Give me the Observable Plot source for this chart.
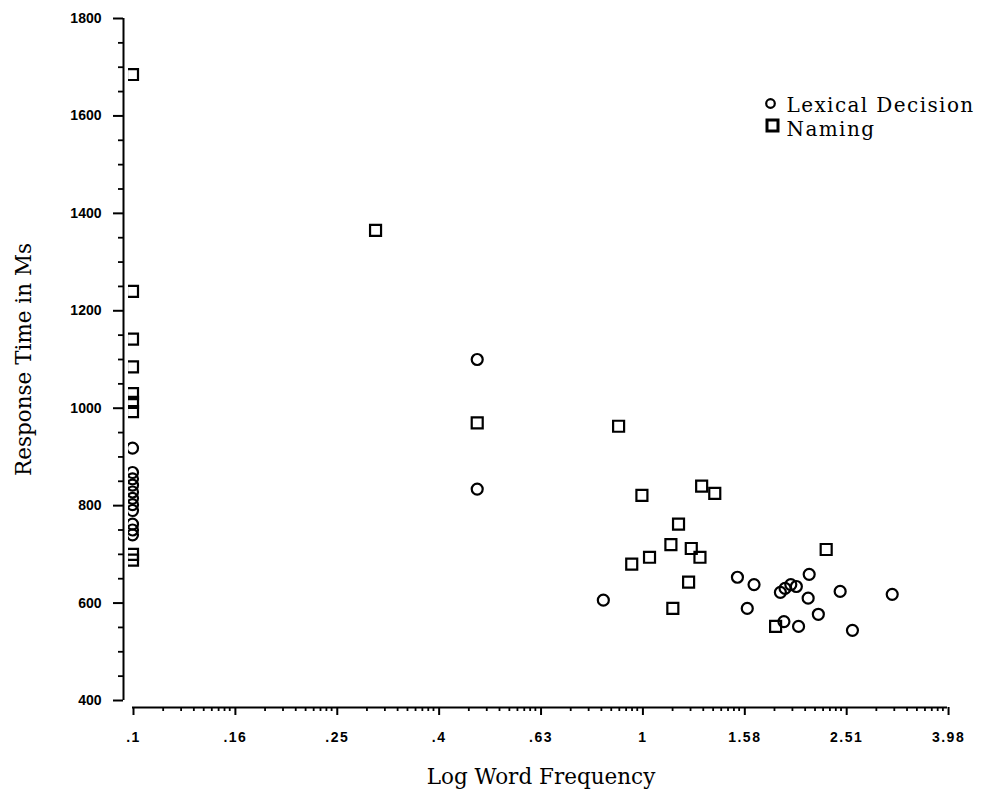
<!DOCTYPE html>
<html>
<head>
<meta charset="utf-8">
<script src="https://cdn.jsdelivr.net/npm/d3@7"></script>
<script src="https://cdn.jsdelivr.net/npm/@observablehq/plot@0.6"></script>
<style>
  html, body { margin: 0; padding: 0; background: white; }
  #chart g[aria-label="y-axis tick label"],
  #chart g[aria-label="x-axis tick label"] { font-size: 14px; font-weight: bold; font-family: "Liberation Sans", sans-serif; }
  #chart g[aria-label="x-axis tick label"] { letter-spacing: 1.5px; }
</style>
</head>
<body>
<div id="chart"></div>
<script>
// ---- data ----
const seriesNames = ["Lexical Decision", "Naming"];

// Lexical decision (circles)
const lexX = [0.1, 0.1, 0.1, 0.1, 0.1, 0.1, 0.1, 0.1, 0.1, 0.1, 0.1,
              0.475, 0.475, 0.84, 1.54, 1.66, 1.61, 2.13, 1.87, 1.91, 1.96,
              2.01, 2.12, 2.45, 3.10, 2.22, 1.90, 2.03, 2.59];
const lexY = [918, 868, 855, 842, 828, 815, 802, 790, 762, 750, 740,
              1100, 834, 606, 653, 638, 589, 659, 622, 630, 638,
              634, 610, 624, 618, 577, 562, 552, 544];

// Naming (squares)
const namX = [0.1, 0.1, 0.1, 0.1, 0.1, 0.1, 0.1, 0.1, 0.1,
              0.30, 0.475, 0.90, 1.0, 1.31, 1.39, 1.18, 1.14, 1.25, 1.30,
              1.035, 0.955, 1.235, 1.15, 2.30, 1.83];
const namY = [1685, 1240, 1142, 1085, 1030, 1012, 993, 700, 688,
              1365, 970, 963, 821, 840, 825, 762, 720, 712, 694,
              694, 680, 643, 589, 710, 552];

// axis ticks
const xTickValues = [0.1, 0.1585, 0.2512, 0.3981, 0.631, 1, 1.585, 2.512, 3.981];
const xTickLabels = [".1", ".16", ".25", ".4", ".63", "1", "1.58", "2.51", "3.98"];
const yTickValues = [400, 600, 800, 1000, 1200, 1400, 1600, 1800];

// ---- derived ----
const lexical = lexX.map((x, i) => ({x, y: lexY[i]}));
const naming = namX.map((x, i) => ({x, y: namY[i]}));

// minor x ticks: log-style subdivision of each labelled interval
const xMinor = [];
for (let i = 0; i < xTickValues.length - 1; i++) {
  const a = xTickValues[i], b = xTickValues[i + 1];
  for (let k = 2; k <= 9; k++) xMinor.push(a * Math.pow(b / a, Math.log10(k)));
}
const yMinor = d3.range(450, 1800, 50).filter(v => v % 200 !== 0);

const xMin = Math.pow(10, -1 - 4 / 509.4);   // frame starts a little left of .1
const serif = "DejaVu Serif";
const sans = "Liberation Sans";

const chart = Plot.plot({
  width: 983,
  height: 793,
  marginLeft: 128,
  marginRight: 36,
  marginTop: 18,
  marginBottom: 93,
  style: {fontFamily: sans, fontSize: "14px", color: "black", background: "white", overflow: "visible"},
  x: {type: "log", domain: [xMin, 3.98]},
  y: {domain: [400, 1800]},
  marks: [
    // y axis
    Plot.ruleX([xMin], {y1: 400, y2: 1800, dx: -5, stroke: "black", strokeWidth: 2}),
    Plot.axisY({ticks: yTickValues, tickSize: 10, tickPadding: 12, dx: -5, strokeWidth: 2,
                tickFormat: d => String(d), label: null}),
    Plot.axisY({ticks: yMinor, tickSize: 6, dx: -4, strokeWidth: 1.8, fill: "none", label: null}),
    // x axis
    Plot.ruleY([400], {x1: xTickValues[0], x2: xTickValues[xTickValues.length - 1], dy: 7, stroke: "black", strokeWidth: 2}),
    Plot.axisX({ticks: xTickValues, tickSize: 8, tickPadding: 17, dy: 7, dx: 1, strokeWidth: 2,
                tickFormat: d => xTickLabels[xTickValues.indexOf(d)], label: null}),
    Plot.axisX({ticks: xMinor, tickSize: 4, dy: 7, strokeWidth: 1.8, fill: "none", label: null}),
    // axis titles
    Plot.text(["Log Word Frequency"], {frameAnchor: "bottom", dx: 3, dy: 77, textAnchor: "middle", lineAnchor: "middle",
                                        fontFamily: serif, fontSize: 21.5}),
    Plot.text(["Response Time in Ms"], {frameAnchor: "left", dx: -104, rotate: -90, textAnchor: "middle", lineAnchor: "middle",
                                         fontFamily: serif, fontSize: 21.5}),
    // data
    Plot.dot(lexical, {x: "x", y: "y", symbol: "circle", r: 5.5, stroke: "black", strokeWidth: 2.2, fill: "none", clip: "frame"}),
    Plot.dot(naming, {x: "x", y: "y", symbol: "square", r: 6.2, stroke: "black", strokeWidth: 2.2, fill: "none", clip: "frame"}),
    // legend
    Plot.dot([seriesNames[0]], {frameAnchor: "top-left", dx: 770 - 128, dy: 103 - 18, symbol: "circle", r: 4.3, stroke: "black", strokeWidth: 2.2, fill: "none"}),
    Plot.dot([seriesNames[1]], {frameAnchor: "top-left", dx: 772 - 128, dy: 125 - 18, symbol: "square", r: 6.2, stroke: "black", strokeWidth: 3, fill: "none"}),
    Plot.text([seriesNames[0]], {frameAnchor: "top-left", dx: 786 - 128, dy: 105 - 18, textAnchor: "start", lineAnchor: "middle",
                                 fontFamily: serif, fontSize: 20}),
    Plot.text([seriesNames[1]], {frameAnchor: "top-left", dx: 786 - 128, dy: 129 - 18, textAnchor: "start", lineAnchor: "middle",
                                 fontFamily: serif, fontSize: 20})
  ]
});
// the reference's legend type is set with wide tracking
d3.select(chart).selectAll("text")
  .filter(function() { return seriesNames.includes(this.textContent); })
  .style("letter-spacing", "1.4px");
document.getElementById("chart").appendChild(chart);
</script>
</body>
</html>
